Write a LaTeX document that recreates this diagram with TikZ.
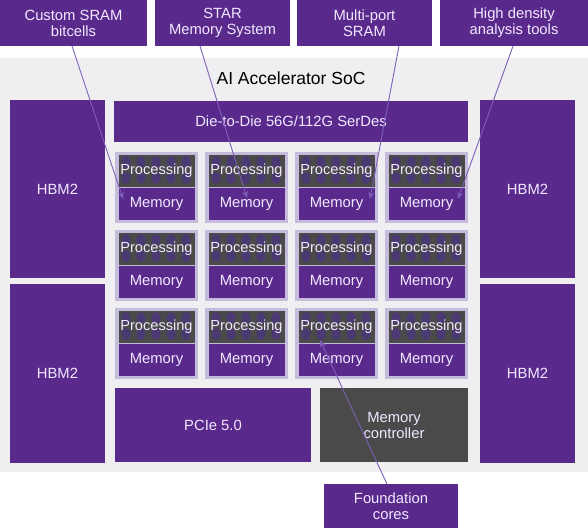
\documentclass[tikz,border=0pt]{standalone}
\usepackage{fontspec}
\setmainfont{Liberation Sans}
\usetikzlibrary{arrows.meta}
\definecolor{pur}{HTML}{592A8C}
\definecolor{ptxt}{HTML}{F2E8FF}
\definecolor{bgg}{HTML}{EFEEF0}
\definecolor{dgray}{HTML}{4A4A4A}
\definecolor{frame}{HTML}{C5BBDA}
\definecolor{arr}{HTML}{7E60B8}
\definecolor{dot}{HTML}{4B2A9A}
\tikzset{
  purbox/.style={fill=pur, draw=none, text=ptxt, align=center, inner sep=0pt, font=\fontsize{14.8}{16}\selectfont},
  graybox/.style={fill=dgray, draw=none, text=ptxt, align=center, inner sep=0pt, font=\fontsize{14.8}{16}\selectfont},
  tileframe/.style={fill=frame, draw=none},
  lbl/.style={text=ptxt, font=\fontsize{14.8}{16}\selectfont, inner sep=0pt},
  callout/.style={draw=arr, line width=0.9pt, -{Stealth[length=7pt,width=6pt,open]}},
}
\begin{document}
\begin{tikzpicture}[x=1pt,y=-1pt]
\useasboundingbox (0,0) rectangle (588,528);
\fill[white] (0,0) rectangle (588,528);
% SoC background
\fill[bgg] (0,58) rectangle (588,472);
% top callout boxes
\node[purbox, minimum width=147pt, minimum height=46pt] (b1) at (73.5,23) {Custom SRAM\\bitcells};
\node[purbox, minimum width=135pt, minimum height=46pt] (b2) at (222.5,23) {STAR\\Memory System};
\node[purbox, minimum width=135pt, minimum height=46pt] (b3) at (364.5,23) {Multi-port\\SRAM};
\node[purbox, minimum width=148pt, minimum height=46pt] (b4) at (514,23) {High density\\analysis tools};
% title
\node[font=\fontsize{17.5}{18}\selectfont, text=black, inner sep=0pt] (title) at (291,78) {AI Accelerator SoC};
% HBM2
\node[purbox, minimum width=95pt, minimum height=178pt] (h1) at (57.5,189) {HBM2};
\node[purbox, minimum width=95pt, minimum height=179pt] (h2) at (57.5,373.5) {HBM2};
\node[purbox, minimum width=95pt, minimum height=178pt] (h3) at (527.5,189) {HBM2};
\node[purbox, minimum width=95pt, minimum height=179pt] (h4) at (527.5,373.5) {HBM2};
% Die-to-die
\node[purbox, minimum width=354pt, minimum height=41pt] (d2d) at (291,121) {Die-to-Die 56G/112G SerDes};
% tiles
\foreach \c [count=\i] in {115,205,295,385}{
  \foreach \r [count=\j] in {152,230,308}{
    \fill[tileframe] (\c,\r) rectangle ++(83,71);
    \fill[dgray] (\c+3.5,\r+2.5) rectangle ++(76,32);
    \begin{scope}
      \clip (\c+3.5,\r+2.5) rectangle ++(76,32);
      \foreach \k in {0,...,4}{
        \foreach \m in {0,1}{
          \fill[dot, opacity=0.5] (\c+11+\k*15,\r+10+\m*16) ellipse (4.5pt and 6pt);
        }
      }
    \end{scope}
    \node[lbl, font=\fontsize{14.6}{16}\selectfont] (p\i\j) at (\c+41.5,\r+18.5) {Processing};
    \fill[pur] (\c+3.5,\r+36) rectangle ++(76,32);
    \node[lbl] (m\i\j) at (\c+41.5,\r+52) {Memory};
  }
}
% PCIe and memory controller
\node[purbox, minimum width=196pt, minimum height=74pt] (pcie) at (213,425) {PCIe 5.0};
\node[graybox, minimum width=148pt, minimum height=74pt] (mc) at (394,425) {Memory\\controller};
% Foundation cores
\node[purbox, minimum width=134pt, minimum height=44pt, anchor=north] (fc) at (391,484) {Foundation\\cores};
% callout arrows
\coordinate (e1) at (123,199);
\coordinate (e2) at (247,198);
\coordinate (e3) at (370,199);
\coordinate (e4) at (458,199);
\coordinate (e5) at (320,340);
\draw[callout] (72,46) -- (e1);
\draw[callout] (200,46) -- (e2);
\draw[callout] (399,46) -- (e3);
\draw[callout] (513,46) -- (e4);
\draw[callout] (387,484) -- (e5);
\end{tikzpicture}
\end{document}
